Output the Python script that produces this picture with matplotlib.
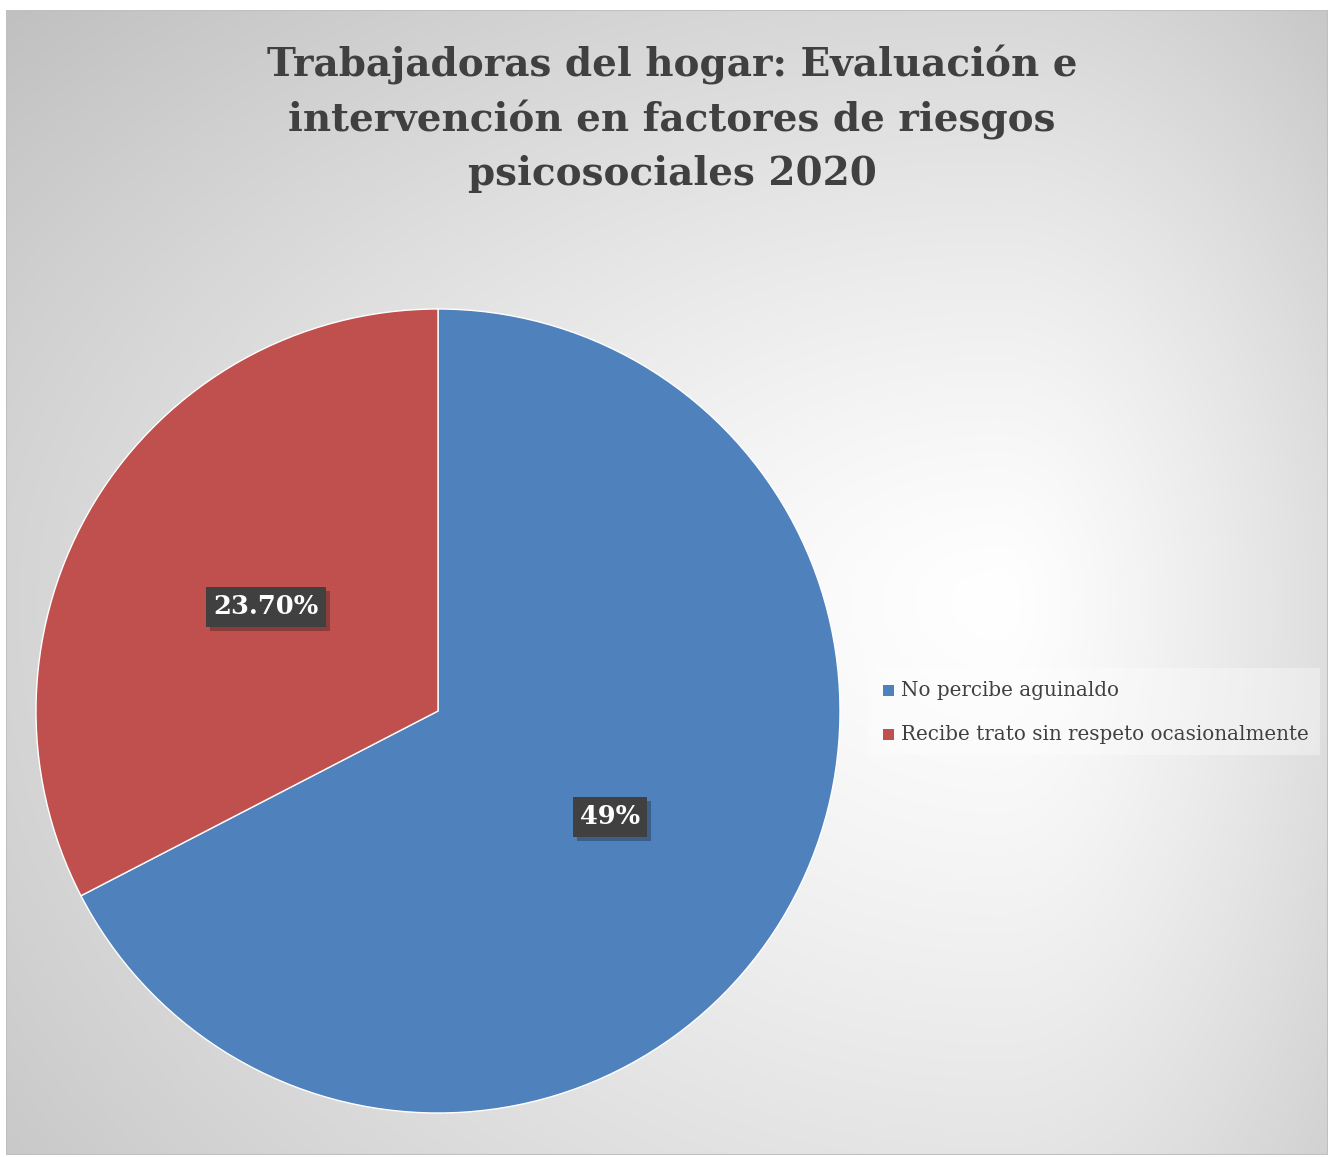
import matplotlib.pyplot as plt
import numpy as np
from matplotlib.patches import Rectangle
import matplotlib.patheffects as pe

# data
labels = ['No percibe aguinaldo', 'Recibe trato sin respeto ocasionalmente']
values = [49, 23.7]
value_text = ['49%', '23.70%']
colors = ['#4f81bd', '#c0504d']
title = 'Trabajadoras del hogar: Evaluación e\nintervención en factores de riesgos\npsicosociales 2020'

W, H = 1329, 1157
fig = plt.figure(figsize=(W / 100, H / 100), dpi=100)
fig.patch.set_facecolor('white')

# chart area background with a soft off-centre gradient
x0, y0, x1, y1 = 6, 10, 1328, 1155
bg = fig.add_axes([x0 / W, 1 - y1 / H, (x1 - x0) / W, (y1 - y0) / H])
gx, gy = np.meshgrid(np.arange(x0, x1), np.arange(y0, y1))
cxg, cyg = 1000, 600
dx = np.where(gx > cxg, (gx - cxg) / 450, (cxg - gx) / 1100)
dy = np.where(gy > cyg, (gy - cyg) / 900, (cyg - gy) / 700)
d = np.hypot(dx, dy)
shade = np.clip(1 - 0.19 * d ** 1.25, 0, 1)
bg.imshow(np.dstack([shade] * 3), aspect='auto', extent=[0, 1, 0, 1])
bg.set_axis_off()
bg.add_patch(Rectangle((0, 0), 1, 1, transform=bg.transAxes, fill=False,
                       edgecolor='#c0c0c0', lw=1.5))

# pie
cx, cy, r = 438, 711, 402
ax = fig.add_axes([(cx - r) / W, 1 - (cy + r) / H, 2 * r / W, 2 * r / H])
wedges, _ = ax.pie(values, colors=colors, startangle=90, counterclock=False,
                   radius=1, wedgeprops=dict(linewidth=1, edgecolor='white'))
ax.set_xlim(-1, 1)
ax.set_ylim(-1, 1)
ax.set_aspect('equal')
ax.set_axis_off()

# data labels
label_pos = [(610, 817), (266, 607)]
for (px, py), txt in zip(label_pos, value_text):
    fig.text(px / W, 1 - py / H, txt, ha='center', va='center',
             fontsize=18.5, fontweight='bold', color='white', family='DejaVu Serif',
             bbox=dict(boxstyle='square,pad=0.28', facecolor='#404040',
                       edgecolor='none',
                       path_effects=[pe.SimplePatchShadow(offset=(3, -3), alpha=0.3),
                                     pe.Normal()]))

# title
fig.text(672 / W, 1 - 119 / H, title, ha='center', va='center',
         fontsize=28, fontweight='bold', color='#404040', family='DejaVu Serif',
         linespacing=1.5)

# legend
leg_ax = fig.add_axes([0, 0, 1, 1])
leg_ax.set_xlim(0, W)
leg_ax.set_ylim(H, 0)
leg_ax.set_axis_off()
leg_ax.add_patch(Rectangle((868, 668), 452, 87, facecolor='white', alpha=0.35,
                           edgecolor='none'))
for i, (lab, col) in enumerate(zip(labels, colors)):
    yy = 690 + 44 * i
    leg_ax.add_patch(Rectangle((883, yy - 5), 11, 11, facecolor=col, edgecolor='none'))
    leg_ax.text(901, yy + 1, lab, ha='left', va='center', fontsize=14.3,
                color='#404040', family='DejaVu Serif')

fig.savefig('out.png', dpi=100)
